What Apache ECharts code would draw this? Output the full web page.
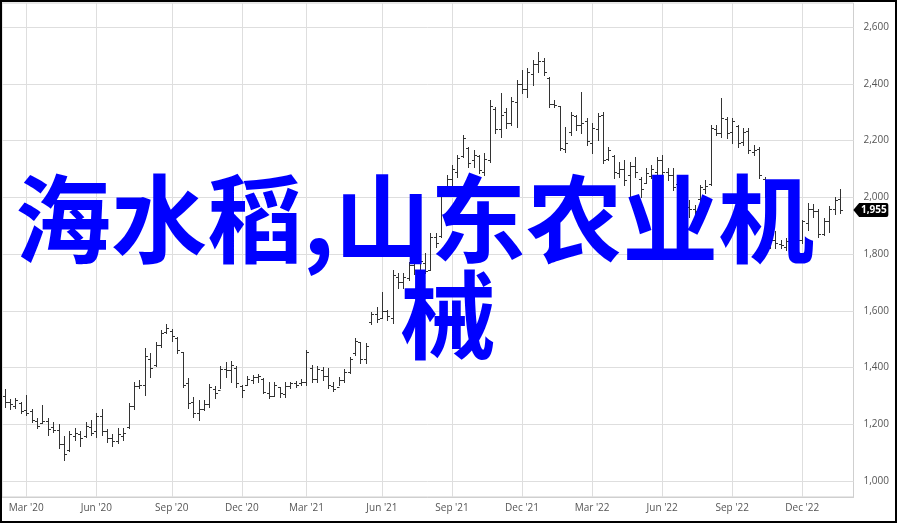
<!DOCTYPE html>
<html>
<head>
<meta charset="utf-8">
<script src="https://cdn.jsdelivr.net/npm/echarts@6/dist/echarts.min.js"></script>
<style>
  html, body { margin: 0; padding: 0; background: #fff; }
  #chart { width: 897px; height: 523px; box-sizing: border-box; border: 2px solid #000; }
</style>
</head>
<body>
<div id="chart"></div>
<script>
// weekly bars, first week starts Mon 3 Feb 2020
var firstWeek = Date.UTC(2020, 1, 3);
var weekSlots = 158;   // a couple of empty slots on the right
var monthNames = ['Jan', 'Feb', 'Mar', 'Apr', 'May', 'Jun', 'Jul', 'Aug', 'Sep', 'Oct', 'Nov', 'Dec'];
var labelMonths = [2, 5, 8, 11];

var opens = [
  1300, 1278, 1265, 1275, 1250, 1245, 1210, 1205, 1210, 1190,
  1180, 1130, 1110, 1160, 1165, 1160, 1190, 1175, 1230, 1175,
  1150, 1140, 1160, 1190, 1265, 1335, 1340, 1430, 1410, 1480,
  1525, 1530, 1505, 1455, 1345, 1280, 1240, 1255, 1270, 1325,
  1320, 1395, 1390, 1400, 1335, 1340, 1355, 1365, 1360, 1310,
  1300, 1330, 1305, 1335, 1345, 1345, 1350, 1400, 1360, 1390,
  1370, 1335, 1330, 1355, 1385, 1450, 1490, 1430, 1560, 1590,
  1575, 1600, 1575, 1720, 1700, 1715, 1760, 1745, 1770, 1745,
  1860, 1865, 2035, 2065, 2090, 2145, 2175, 2130, 2145, 2090,
  2130, 2310, 2240, 2300, 2260, 2335, 2400, 2380, 2435, 2470,
  2480, 2420, 2330, 2320, 2170, 2230, 2285, 2255, 2270, 2190,
  2240, 2290, 2135, 2145, 2085, 2100, 2080, 2110, 2065, 2050,
  2075, 2090, 2130, 2090, 2080, 2045, 1990, 1965, 1960, 1995,
  2030, 2045, 2240, 2225, 2275, 2230, 2250, 2195, 2235, 2160,
  2170, 2065, 2000, 1850, 1835, 1825, 1845, 1820, 1850, 1910,
  1960, 1950, 1870, 1915, 1960, 1995
];
var highs = [
  1323, 1288, 1294, 1280, 1303, 1252, 1221, 1268, 1221, 1209,
  1200, 1159, 1177, 1186, 1177, 1209, 1215, 1241, 1253, 1182,
  1166, 1186, 1186, 1274, 1350, 1356, 1468, 1450, 1491, 1532,
  1553, 1534, 1509, 1456, 1362, 1297, 1285, 1285, 1342, 1335,
  1405, 1420, 1424, 1405, 1338, 1370, 1373, 1377, 1362, 1350,
  1350, 1332, 1350, 1350, 1354, 1358, 1462, 1409, 1405, 1403,
  1397, 1350, 1368, 1393, 1438, 1503, 1491, 1485, 1597, 1614,
  1667, 1603, 1743, 1732, 1732, 1773, 1785, 1790, 1802, 1873,
  1873, 2037, 2078, 2114, 2149, 2219, 2178, 2166, 2149, 2155,
  2343, 2319, 2366, 2313, 2354, 2413, 2448, 2454, 2484, 2513,
  2489, 2425, 2343, 2321, 2249, 2301, 2290, 2372, 2278, 2260,
  2296, 2301, 2178, 2149, 2125, 2131, 2125, 2143, 2072, 2102,
  2114, 2143, 2149, 2102, 2102, 2072, 2002, 1990, 1973, 2043,
  2061, 2255, 2255, 2349, 2284, 2278, 2255, 2243, 2243, 2184,
  2178, 2072, 2020, 1880, 1849, 1855, 1861, 1860, 1920, 1980,
  1975, 1960, 1926, 1970, 2002, 2030
];
var lows = [
  1262, 1253, 1256, 1238, 1233, 1209, 1186, 1203, 1162, 1174,
  1117, 1074, 1107, 1145, 1123, 1156, 1162, 1156, 1162, 1139,
  1123, 1133, 1145, 1186, 1253, 1328, 1303, 1368, 1405, 1471,
  1520, 1494, 1452, 1332, 1256, 1227, 1215, 1250, 1260, 1291,
  1326, 1368, 1350, 1332, 1295, 1338, 1344, 1350, 1309, 1291,
  1300, 1295, 1295, 1327, 1332, 1338, 1338, 1350, 1350, 1356,
  1326, 1318, 1338, 1350, 1379, 1444, 1415, 1415, 1555, 1561,
  1573, 1567, 1556, 1679, 1679, 1708, 1730, 1735, 1732, 1743,
  1826, 1861, 2031, 2037, 2072, 2143, 2108, 2108, 2084, 2078,
  2125, 2225, 2213, 2243, 2254, 2249, 2366, 2354, 2395, 2442,
  2431, 2319, 2319, 2166, 2160, 2219, 2237, 2225, 2184, 2155,
  2202, 2119, 2131, 2067, 2072, 2043, 1996, 2072, 2002, 2049,
  2067, 2067, 2061, 2061, 2025, 1990, 1955, 1930, 1926, 1990,
  2014, 2043, 2219, 2213, 2208, 2190, 2178, 2184, 2155, 2149,
  2067, 2002, 1820, 1820, 1820, 1814, 1808, 1810, 1840, 1885,
  1930, 1860, 1867, 1879, 1940, 1945
];
var closes = [
  1280, 1270, 1285, 1245, 1240, 1215, 1195, 1210, 1185, 1180,
  1130, 1095, 1165, 1170, 1150, 1195, 1170, 1230, 1175, 1150,
  1140, 1165, 1170, 1265, 1335, 1340, 1440, 1400, 1480, 1520,
  1540, 1510, 1460, 1340, 1275, 1240, 1255, 1270, 1330, 1310,
  1395, 1390, 1410, 1345, 1320, 1360, 1365, 1370, 1315, 1300,
  1340, 1310, 1335, 1345, 1340, 1350, 1455, 1360, 1395, 1370,
  1340, 1325, 1355, 1385, 1430, 1495, 1430, 1475, 1590, 1570,
  1600, 1580, 1725, 1700, 1720, 1760, 1745, 1775, 1740, 1860,
  1840, 2020, 2065, 2100, 2140, 2210, 2120, 2150, 2095, 2135,
  2320, 2240, 2290, 2260, 2340, 2400, 2380, 2440, 2470, 2480,
  2440, 2330, 2325, 2175, 2190, 2290, 2255, 2260, 2200, 2245,
  2285, 2130, 2165, 2090, 2100, 2060, 2110, 2090, 2030, 2085,
  2100, 2130, 2090, 2080, 2035, 2000, 1965, 1960, 1950, 2035,
  2040, 2245, 2225, 2280, 2225, 2270, 2190, 2230, 2165, 2165,
  2080, 2010, 1850, 1840, 1830, 1845, 1815, 1850, 1915, 1960,
  1950, 1870, 1915, 1960, 1990, 1955
];
var priceMin = 1000, priceMax = 2600, priceStep = 200;
var titleLines = ['海水稻,山东农业机', '械'];

var weeks = [];
for (var i = 0; i < weekSlots; i++) weeks.push(new Date(firstWeek + i * 7 * 86400000));
var categories = weeks.map(function (d) { return d.toISOString().slice(0, 10); });

function isLabelWeek(idx) {
  var d = weeks[idx];
  return labelMonths.indexOf(d.getUTCMonth()) >= 0 && d.getUTCDate() <= 7;
}
function fmtNum(v) { return String(v).replace(/\B(?=(\d{3})+(?!\d))/g, ','); }

var bars = opens.map(function (o, i) { return [i, o, closes[i], lows[i], highs[i]]; });
var last = closes.length - 1;

function renderBar(params, api) {
  var x = api.value(0);
  var o = api.coord([x, api.value(1)]);
  var c = api.coord([x, api.value(2)]);
  var l = api.coord([x, api.value(3)]);
  var h = api.coord([x, api.value(4)]);
  var px = Math.round(h[0]) + 0.5;
  var st = { stroke: '#333', lineWidth: 1 };
  return {
    type: 'group',
    children: [
      { type: 'line', shape: { x1: px, y1: Math.round(h[1]), x2: px, y2: Math.round(l[1]) + 1 }, style: st },
      { type: 'line', shape: { x1: px - 2.5, y1: Math.round(o[1]) + 0.5, x2: px, y2: Math.round(o[1]) + 0.5 }, style: st },
      { type: 'line', shape: { x1: px, y1: Math.round(c[1]) + 0.5, x2: px + 2.5, y2: Math.round(c[1]) + 0.5 }, style: st }
    ]
  };
}

var gridColor = '#dedede';
var option = {
  animation: false,
  grid: [
    { left: 0, right: 41.5, top: 1, bottom: 24, show: true, borderColor: '#cfcfcf', borderWidth: 1 },
    { left: 0, right: 41.5, top: 25, bottom: 40 }
  ],
  xAxis: [{
    gridIndex: 0,
    type: 'category',
    data: categories,
    axisLine: { lineStyle: { color: '#cfcfcf' } },
    axisTick: { alignWithLabel: true, length: 3, interval: function (i) { return isLabelWeek(i); }, lineStyle: { color: '#cfcfcf' } },
    splitLine: { show: true, alignWithLabel: true, interval: function (i) { return isLabelWeek(i); }, lineStyle: { color: gridColor } },
    axisLabel: {
      interval: function (i) { return isLabelWeek(i); },
      formatter: function (v) {
        var d = new Date(v + 'T00:00:00Z');
        return monthNames[d.getUTCMonth()] + " '" + String(d.getUTCFullYear()).slice(2);
      },
      color: '#555', fontSize: 10, fontFamily: 'Open Sans', margin: 6
    }
  }, {
    gridIndex: 1,
    type: 'category',
    data: categories,
    show: false
  }],
  yAxis: [{
    gridIndex: 0, type: 'value', min: 0, max: 1, show: false
  }, {
    gridIndex: 1,
    type: 'value',
    position: 'right',
    min: priceMin, max: priceMax, interval: priceStep,
    axisLine: { show: false },
    axisTick: { show: false },
    splitLine: { lineStyle: { color: gridColor } },
    axisLabel: { formatter: fmtNum, color: '#555', fontSize: 10, fontFamily: 'Open Sans', margin: 10 }
  }],
  series: [{
    type: 'custom',
    xAxisIndex: 1,
    yAxisIndex: 1,
    renderItem: renderBar,
    encode: { x: 0, y: [1, 2, 3, 4] },
    data: bars,
    clip: false,
    z: 5,
    markPoint: {
      silent: true,
      symbol: 'path://M0,7 L6,0 L34,0 Q36,0 36,2 L36,12 Q36,14 34,14 L6,14 Z',
      symbolSize: [35, 14],
      symbolKeepAspect: false,
      itemStyle: { color: '#000' },
      label: {
        show: true, position: 'inside', offset: [3, 0],
        color: '#fff', fontWeight: 'bold', fontSize: 10, fontFamily: 'Open Sans',
        formatter: function () { return fmtNum(closes[last]); }
      },
      data: [{ coord: [weekSlots - 1, closes[last]], symbolOffset: [20, 0] }]
    }
  }],
  graphic: [{
    type: 'text', x: 13, y: 217, z: 100,
    style: {
      text: titleLines[0], fill: '#0000ff',
      font: 'bold 96px "Noto Sans CJK SC"',
      align: 'left', verticalAlign: 'middle', textAlign: 'left', textVerticalAlign: 'middle'
    }
  }, {
    type: 'text', x: 446, y: 313, z: 100,
    style: {
      text: titleLines[1], fill: '#0000ff',
      font: 'bold 96px "Noto Sans CJK SC"',
      align: 'center', verticalAlign: 'middle', textAlign: 'center', textVerticalAlign: 'middle'
    }
  }]
};

var chart = echarts.init(document.getElementById('chart'));
chart.setOption(option);
</script>
</body>
</html>
